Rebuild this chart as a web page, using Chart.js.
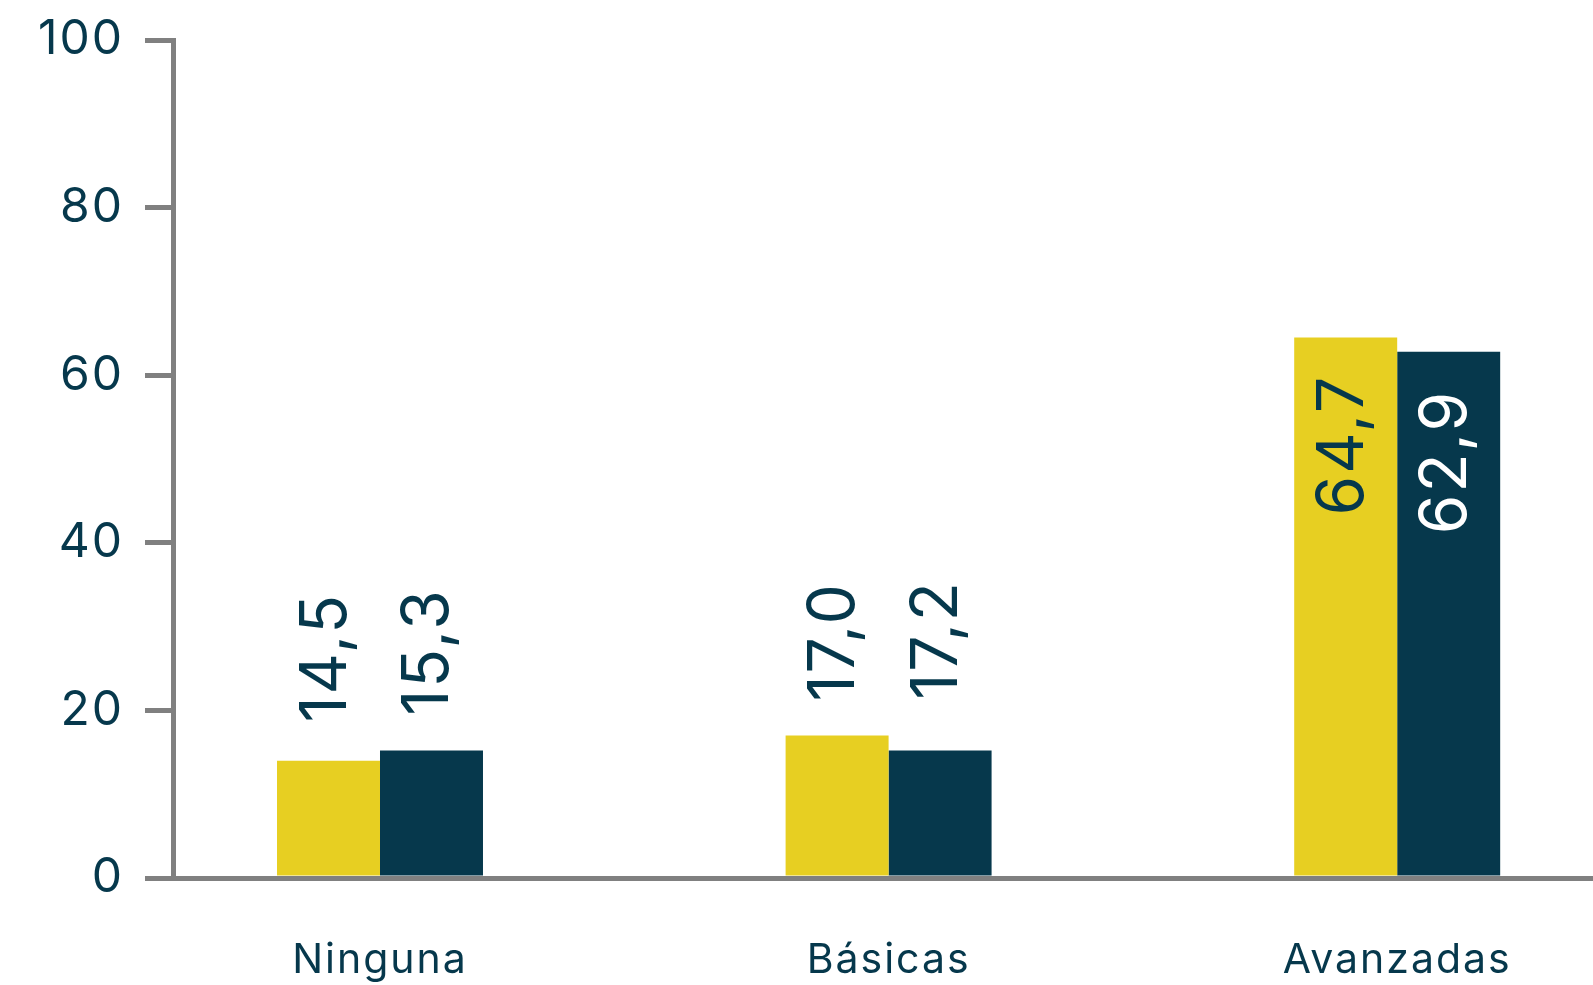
<!DOCTYPE html>
<html>
<head>
<meta charset="utf-8">
<script src="https://cdn.jsdelivr.net/npm/chart.js@4"></script>
<style>
  html, body { margin: 0; padding: 0; background: #ffffff; overflow: hidden; }
  #wrap { width: 1593px; height: 985px; }
</style>
</head>
<body>
<div id="wrap"><canvas id="chart" width="1593" height="985"></canvas></div>
<script>
// categories and series (bar heights as drawn, labels as printed)
const categories = ['Ninguna', 'Básicas', 'Avanzadas'];
const yellowBars = [14.0, 17.0, 64.5];
const navyBars = [15.2, 15.2, 62.8];
const yellowLabels = [14.5, 17.0, 64.7];
const navyLabels = [15.3, 17.2, 62.9];
const yTicks = [0, 20, 40, 60, 80, 100];

const NAVY = '#06384c';
const YELLOW = '#e7cf22';
const GREY = '#808080';
const FONT = 'Inter';

// a bit of tracking on all canvas text, like the original typeface
const tracking = {
    id: 'tracking',
    beforeInit(chart) { chart.ctx.letterSpacing = '2px'; },
    beforeDraw(chart) { chart.ctx.letterSpacing = '2px'; }
};

// value labels, rotated, drawn through the y scale
const valueLabels = {
    id: 'valueLabels',
    afterDatasetsDraw(chart) {
        const ctx = chart.ctx;
        const yScale = chart.scales.y;
        const labelSets = [yellowLabels, navyLabels];
        chart.data.datasets.forEach((ds, d) => {
            const meta = chart.getDatasetMeta(d);
            meta.data.forEach((bar, i) => {
                const val = labelSets[d][i];
                const text = val.toFixed(1).replace('.', ',');
                const yPix = yScale.getPixelForValue(val);
                const inside = (bar.base - bar.y) > 300;
                ctx.save();
                ctx.letterSpacing = '2px';
                ctx.font = '64px ' + FONT;
                ctx.textBaseline = 'alphabetic';
                if (inside) {
                    ctx.translate(bar.x + 17, yPix + 39);
                    ctx.textAlign = 'right';
                    ctx.fillStyle = d === 0 ? NAVY : '#ffffff';
                } else {
                    ctx.translate(bar.x + 17, yPix - 34);
                    ctx.textAlign = 'left';
                    ctx.fillStyle = NAVY;
                }
                ctx.rotate(-Math.PI / 2);
                ctx.fillText(text, 0, 0);
                ctx.restore();
            });
        });
    }
};

const ctx = document.getElementById('chart').getContext('2d');
new Chart(ctx, {
    type: 'bar',
    data: {
        datasets: [{
            data: categories.map((c, i) => ({ x: i, y: yellowBars[i] })),
            backgroundColor: YELLOW,
            borderWidth: 0,
            categoryPercentage: 0.405,
            barPercentage: 1.0
        }, {
            data: categories.map((c, i) => ({ x: i, y: navyBars[i] })),
            backgroundColor: NAVY,
            borderWidth: 0,
            categoryPercentage: 0.405,
            barPercentage: 1.0
        }]
    },
    options: {
        responsive: false,
        animation: false,
        layout: { padding: { top: 40, left: 0, right: 0, bottom: 0 } },
        plugins: {
            legend: { display: false },
            tooltip: { enabled: false }
        },
        scales: {
            x: {
                type: 'linear',
                min: -0.407,
                max: 2.385,
                offset: false,
                grid: { display: false, drawTicks: false, offset: false },
                border: { display: true, color: GREY, width: 5 },
                afterBuildTicks: (scale) => {
                    scale.ticks = categories.map((c, i) => ({ value: i }));
                },
                afterFit: (scale) => {
                    scale.height = 107;
                    scale.paddingLeft = 0;
                    scale.paddingRight = 0;
                },
                ticks: {
                    autoSkip: false,
                    maxRotation: 0,
                    padding: 58,
                    color: NAVY,
                    font: { family: FONT, size: 41 },
                    callback: (v) => categories[v] !== undefined ? categories[v] : ''
                }
            },
            y: {
                min: 0,
                max: 100,
                afterBuildTicks: (scale) => {
                    scale.ticks = yTicks.map(v => ({ value: v }));
                },
                afterFit: (scale) => {
                    scale.width = 173;
                    scale.paddingTop = 0;
                    scale.paddingBottom = 0;
                },
                grid: {
                    drawOnChartArea: false,
                    drawTicks: true,
                    tickLength: 28,
                    lineWidth: 5,
                    color: GREY
                },
                border: { display: true, color: GREY, width: 5 },
                ticks: {
                    padding: 21,
                    color: NAVY,
                    font: { family: FONT, size: 48 }
                }
            }
        }
    },
    plugins: [tracking, valueLabels]
});
</script>
</body>
</html>
